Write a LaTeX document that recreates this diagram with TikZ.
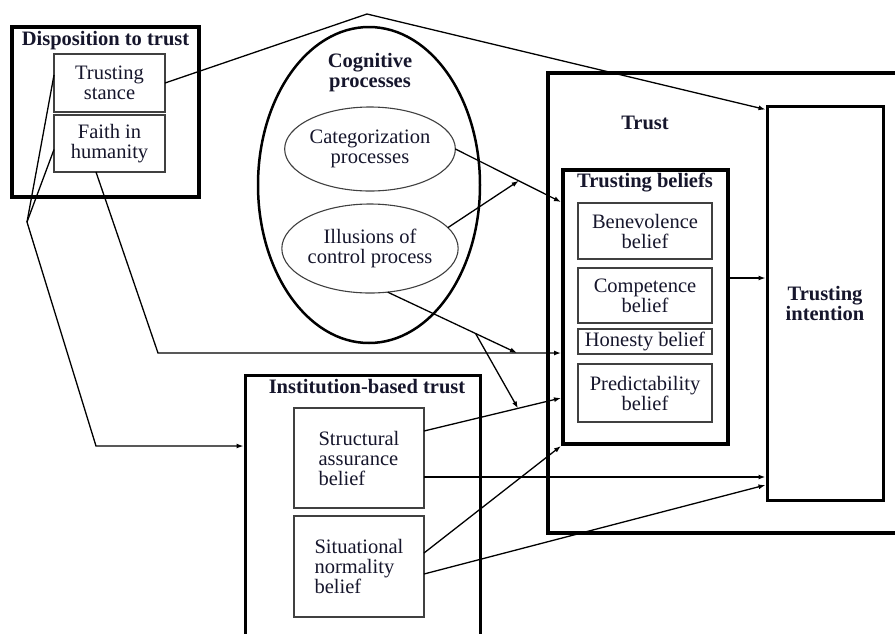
\documentclass[tikz,border=0pt]{standalone}
\usepackage{fontspec}
\setmainfont{Liberation Serif}
\usetikzlibrary{arrows.meta,calc,shapes.geometric}
\definecolor{ink}{RGB}{22,22,44}
\begin{document}
\begin{tikzpicture}[x=1pt,y=-1pt,
  every node/.style={font=\fontsize{20.5}{20}\selectfont, text=ink, inner sep=0pt},
  heavy/.style={draw=black, line width=3.5pt, outer sep=1.75pt},
  thinbox/.style={draw=black!75, line width=1.1pt, align=center, outer sep=0pt},
  thinoval/.style={ellipse, draw=black!75, line width=1.1pt, align=center, outer sep=0pt},
  title/.style={font=\fontsize{20.5}{20}\selectfont\bfseries, align=center},
  link/.style={draw=black, line width=1.3pt},
  arr/.style={link, -{Latex[length=7pt,width=5pt]}},
]
\useasboundingbox (0,0) rectangle (895,633);
\fill[white] (0,0) rectangle (895,633);

% ---- Disposition to trust
\node[heavy, minimum width=187pt, minimum height=170pt] (disp) at (105.5,112) {};
\node[title] (disptitle) at (105.5,41) {Disposition to trust};
\node[thinbox, minimum width=111pt, minimum height=58pt] (stance) at (109.5,83) {Trusting\\stance};
\node[thinbox, minimum width=111pt, minimum height=57pt] (faith) at (109.5,143.5) {Faith in\\humanity};

% ---- Cognitive processes
\node[ellipse, draw=black, line width=2.5pt, minimum width=222pt, minimum height=316pt] (cog) at (369,185) {};
\node[title] (cogtitle) at (370,73) {Cognitive\\processes};
\node[thinoval, minimum width=166pt, minimum height=84pt] (cat) at (370,149) {Categorization\\processes};
\node[thinoval, minimum width=166pt, minimum height=89pt] (ill) at (370,248.5) {Illusions of\\control process};

% ---- Trust (open on the right)
\draw[line width=3.5pt] (900,73) -- (548,73) -- (548,533) -- (900,533);
\node[title] (trustlbl) at (645,123) {Trust};
\node[heavy, line width=4pt, outer sep=2pt, minimum width=165pt, minimum height=274pt] (tb) at (645.5,307) {};
\node[title] (tbtitle) at (645,183) {Trusting beliefs};
\node[thinbox, minimum width=134pt, minimum height=56pt] (bene) at (645,231) {Benevolence\\belief};
\node[thinbox, minimum width=134pt, minimum height=55pt] (comp) at (645,295.5) {Competence\\belief};
\node[thinbox, minimum width=134pt, minimum height=25pt] (hon) at (645,341.5) {Honesty belief};
\node[thinbox, minimum width=134pt, minimum height=58pt] (pred) at (645,393) {Predictability\\belief};
\node[heavy, line width=3pt, outer sep=1.5pt, minimum width=116pt, minimum height=394pt, title] (intent) at (825,303) {Trusting\\intention};

% ---- Institution-based trust (open at the bottom)
\draw[line width=3pt] (245,640) -- (245,375) -- (480,375) -- (480,640);
\node[title] (insttitle) at (367,387) {Institution-based trust};
\coordinate (instwest) at (243.5,446);
\node[thinbox, align=left, minimum width=130pt, minimum height=100pt] (struct) at (359,458) {Structural\\assurance\\belief};
\node[thinbox, align=left, minimum width=130pt, minimum height=101pt] (situ) at (359,566.5) {Situational\\normality\\belief};

% ---- connectors
\coordinate (peak) at (367,14);
\draw[arr] (stance.east) -- (peak) -- ($(intent.north west)+(0,5)$);

\coordinate (hub) at (27,222);
\coordinate (bendA) at (96,446);
\draw[link] ($(stance.west)+(0,-8)$) -- (hub);
\draw[link] ($(faith.west)+(0,6)$) -- (hub);
\draw[arr] (hub) -- (bendA) -- (instwest);

\coordinate (bendB) at (158,353);
\draw[arr] ($(faith.south west)+(42,0)$) -- (bendB) -- (tb.west |- bendB);

\coordinate (catEnd) at ($(tb.west)+(0,-105)$);
\draw[arr] (cat.east) -- (catEnd);
\coordinate (jA) at ($(cat.east)!0.6!(catEnd)$);
\draw[arr] (ill.15) -- (jA);

\coordinate (jB) at (517,353);
\draw[arr] (ill.-68) -- (jB);

\coordinate (s1) at ($(struct.north east)+(0,23)$);
\coordinate (predEnd) at ($(tb.west)+(0,91)$);
\draw[arr] (s1) -- (predEnd);
\coordinate (jC) at ($(ill.-68)!0.68!(jB)$);
\coordinate (jD) at ($(s1)!0.686!(predEnd)$);
\draw[arr] (jC) -- (jD);

\coordinate (s2) at ($(struct.east)+(0,19)$);
\draw[arr, line width=2.4pt] (s2) -- (intent.west |- s2);

\coordinate (u1) at ($(situ.east)+(0,-13.5)$);
\coordinate (u2) at ($(situ.east)+(0,7.5)$);
\draw[arr] (u1) -- (tb.south west);
\draw[arr] (u2) -- ($(intent.west)+(0,182)$);

\coordinate (t1) at ($(tb.east)+(0,-29)$);
\draw[arr] (t1) -- (intent.west |- t1);
\end{tikzpicture}
\end{document}
